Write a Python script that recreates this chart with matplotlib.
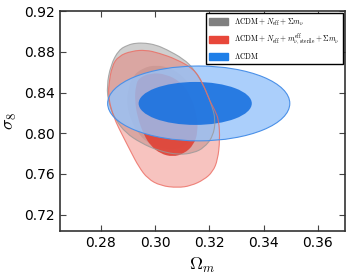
import numpy as np
import matplotlib
matplotlib.use("Agg")
import matplotlib.pyplot as plt
from matplotlib.path import Path
from matplotlib.patches import PathPatch, Ellipse, Patch

plt.rcParams['mathtext.fontset'] = 'cm'

# contour outlines (Omega_m, sigma_8)
grey_out_x = [0.2929, 0.2966, 0.3003, 0.3040, 0.3106, 0.3143, 0.3180, 0.3206, 0.3224, 0.3213, 0.3180,
              0.3143, 0.3088, 0.3014, 0.2947, 0.2892, 0.2855, 0.2829, 0.2822, 0.2837, 0.2866, 0.2900]
grey_out_y = [0.8886, 0.8886, 0.8867, 0.8827, 0.8729, 0.8631, 0.8465, 0.8298, 0.8131, 0.7965, 0.7857,
              0.7808, 0.7788, 0.7827, 0.7906, 0.8004, 0.8131, 0.8288, 0.8465, 0.8671, 0.8818, 0.8867]
grey_in_x = [0.2900, 0.2918, 0.2955, 0.3003, 0.3058, 0.3106, 0.3143, 0.3161, 0.3161, 0.3139, 0.3095,
             0.3040, 0.2984, 0.2940, 0.2911, 0.2896]
grey_in_y = [0.8425, 0.8563, 0.8641, 0.8671, 0.8641, 0.8553, 0.8425, 0.8259, 0.8082, 0.7935, 0.7847,
             0.7837, 0.7886, 0.7984, 0.8131, 0.8278]

red_out_x = [0.2829, 0.2841, 0.2866, 0.2914, 0.2966, 0.3014, 0.3077, 0.3143, 0.3176, 0.3198, 0.3220,
             0.3235, 0.3239, 0.3231, 0.3213, 0.3180, 0.3132, 0.3084, 0.3021, 0.2973, 0.2940, 0.2911,
             0.2881, 0.2855, 0.2837, 0.2829]
red_out_y = [0.8465, 0.8661, 0.8759, 0.8808, 0.8818, 0.8788, 0.8729, 0.8631, 0.8494, 0.8337, 0.8229,
             0.8131, 0.7935, 0.7739, 0.7622, 0.7543, 0.7484, 0.7465, 0.7484, 0.7553, 0.7671, 0.7818,
             0.7975, 0.8112, 0.8249, 0.8367]
red_in_x = [0.2929, 0.2940, 0.2984, 0.3040, 0.3095, 0.3132, 0.3154, 0.3158, 0.3143, 0.3106, 0.3065,
            0.3021, 0.2984, 0.2959, 0.2936, 0.2925]
red_in_y = [0.8465, 0.8543, 0.8592, 0.8582, 0.8504, 0.8367, 0.8180, 0.8014, 0.7886, 0.7798, 0.7769,
            0.7798, 0.7876, 0.7984, 0.8151, 0.8327]

# LCDM: centre and full widths of the 68/95 ellipses
lcdm_centre = [(0.3161, 0.8293), (0.3148, 0.8293)]
lcdm_width = [0.0671, 0.0417]
lcdm_height = [0.0735, 0.0422]

labels = [r'$\Lambda\mathrm{CDM}+N_{\mathrm{eff}}+\Sigma m_{\nu}$',
          r'$\Lambda\mathrm{CDM}+N_{\mathrm{eff}}+m_{\nu,\,\mathrm{sterile}}^{\mathrm{eff}}+\Sigma m_{\nu}$',
          r'$\Lambda\mathrm{CDM}$']


def smooth_patch(xs, ys, **kw):
    # closed quadratic-bezier path through the outline
    pts = np.column_stack([xs, ys])
    n = len(pts)
    mids = (pts + np.roll(pts, -1, axis=0)) / 2
    verts = [mids[-1]]
    codes = [Path.MOVETO]
    for i in range(n):
        verts += [pts[i], mids[i]]
        codes += [Path.CURVE3, Path.CURVE3]
    return PathPatch(Path(verts, codes), **kw)


fig, ax = plt.subplots(figsize=(3.51, 2.77), dpi=100)
fig.subplots_adjust(left=0.171, right=0.983, bottom=0.166, top=0.960)

# filled regions
ax.add_patch(smooth_patch(grey_out_x, grey_out_y, facecolor='#a8a8a8', alpha=0.55, edgecolor='none'))
ax.add_patch(smooth_patch(grey_in_x, grey_in_y, facecolor='#909090', alpha=0.35, edgecolor='none'))
ax.add_patch(smooth_patch(red_out_x, red_out_y, facecolor='#ec6a60', alpha=0.4, edgecolor='none'))
ax.add_patch(smooth_patch(red_in_x, red_in_y, facecolor='#e0463a', alpha=0.95, edgecolor='none'))
ax.add_patch(Ellipse(lcdm_centre[0], lcdm_width[0], lcdm_height[0], facecolor='#96c3fa',
                     alpha=0.8, edgecolor='none'))
ax.add_patch(Ellipse(lcdm_centre[1], lcdm_width[1], lcdm_height[1], facecolor='#1a72e0',
                     alpha=0.9, edgecolor='none'))

# outlines on top
ax.add_patch(smooth_patch(grey_out_x, grey_out_y, facecolor='none', edgecolor='#999999', lw=0.8, alpha=0.8))
ax.add_patch(smooth_patch(red_out_x, red_out_y, facecolor='none', edgecolor='#ec6a60', lw=0.8, alpha=0.8))
ax.add_patch(Ellipse(lcdm_centre[0], lcdm_width[0], lcdm_height[0], facecolor='none',
                     edgecolor='#4a90e8', lw=0.8))

ax.set_xlim(0.265, 0.37)
ax.set_ylim(0.704, 0.92)
ax.set_xticks([0.28, 0.30, 0.32, 0.34, 0.36])
ax.set_yticks([0.72, 0.76, 0.80, 0.84, 0.88, 0.92])
ax.xaxis.set_major_formatter(plt.FormatStrFormatter('%.2f'))
ax.yaxis.set_major_formatter(plt.FormatStrFormatter('%.2f'))
ax.tick_params(direction='in', top=True, right=True, labelsize=10, length=4, width=0.8, color='#444444')
for sp in ax.spines.values():
    sp.set_color('#333333')
    sp.set_linewidth(1.2)

ax.set_xlabel(r'$\Omega_m$', fontsize=13)
ax.set_ylabel(r'$\sigma_8$', fontsize=13)

handles = [Patch(color='#808080'), Patch(color='#e8473a'), Patch(color='#1f7fe8')]
leg = ax.legend(handles, labels, loc='upper right', fontsize=5.5, frameon=True, fancybox=False,
                framealpha=1, edgecolor='black', borderaxespad=0.3, handlelength=2.5,
                handleheight=1.0, labelspacing=0.5)
leg.get_frame().set_linewidth(1.0)

fig.savefig('out.png', dpi=100)
